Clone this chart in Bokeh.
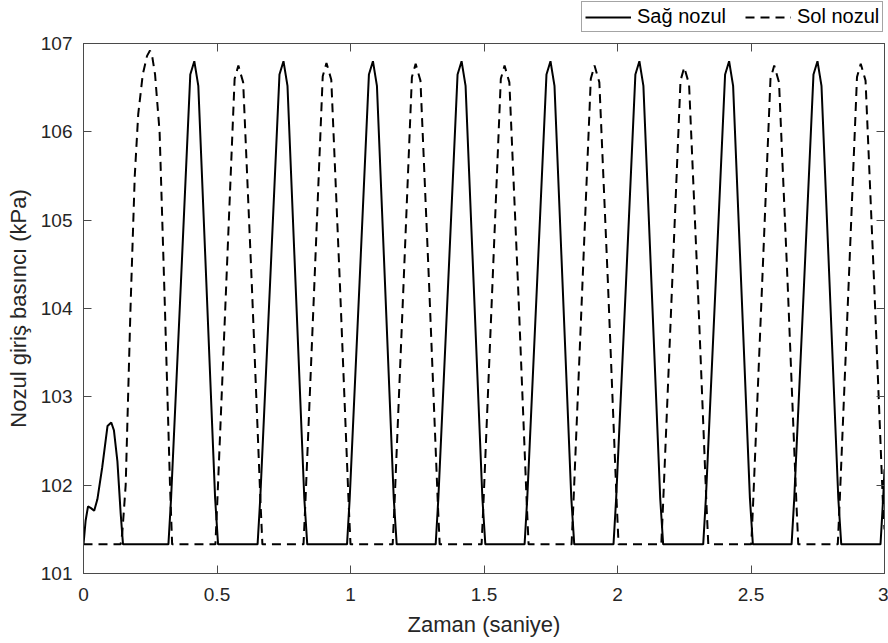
from bokeh.plotting import figure
from bokeh.layouts import column
from bokeh.models import Range1d, FixedTicker, LinearAxis, Legend, LegendItem
from bokeh.embed import file_html
from bokeh.resources import INLINE

# ---- data ----
x_ticks = [0, 0.5, 1, 1.5, 2, 2.5, 3]
x_tick_labels = ["0", "0.5", "1", "1.5", "2", "2.5", "3"]
y_ticks = [101, 102, 103, 104, 105, 106, 107]
y_tick_labels = ["101", "102", "103", "104", "105", "106", "107"]

# Sağ nozul (solid)
sag_t = [
    0.000, 0.008, 0.017, 0.028, 0.040, 0.052, 0.070, 0.090, 0.104, 0.114, 0.127, 0.139, 0.148,
    0.318, 0.328, 0.365, 0.400, 0.415, 0.430, 0.460, 0.493, 0.504,
    0.652, 0.662, 0.699, 0.734, 0.749, 0.764, 0.794, 0.827, 0.838,
    0.987, 0.997, 1.034, 1.069, 1.084, 1.099, 1.129, 1.162, 1.173,
    1.319, 1.329, 1.366, 1.401, 1.416, 1.431, 1.461, 1.494, 1.505,
    1.652, 1.662, 1.699, 1.734, 1.749, 1.764, 1.794, 1.827, 1.838,
    1.985, 1.995, 2.032, 2.067, 2.082, 2.097, 2.127, 2.160, 2.171,
    2.321, 2.331, 2.368, 2.403, 2.418, 2.433, 2.463, 2.496, 2.507,
    2.652, 2.662, 2.699, 2.734, 2.749, 2.764, 2.794, 2.827, 2.838,
    2.985, 2.995, 3.000,
]
sag_p = [
    101.33, 101.60, 101.76, 101.74, 101.71, 101.84, 102.20, 102.67, 102.71, 102.62, 102.27, 101.69, 101.33,
    101.33, 101.85, 104.30, 106.65, 106.80, 106.52, 104.30, 101.85, 101.33,
    101.33, 101.85, 104.30, 106.65, 106.80, 106.52, 104.30, 101.85, 101.33,
    101.33, 101.85, 104.30, 106.65, 106.80, 106.52, 104.30, 101.85, 101.33,
    101.33, 101.85, 104.30, 106.65, 106.80, 106.52, 104.30, 101.85, 101.33,
    101.33, 101.85, 104.30, 106.65, 106.80, 106.52, 104.30, 101.85, 101.33,
    101.33, 101.85, 104.30, 106.65, 106.80, 106.52, 104.30, 101.85, 101.33,
    101.33, 101.85, 104.30, 106.65, 106.80, 106.52, 104.30, 101.85, 101.33,
    101.33, 101.85, 104.30, 106.65, 106.80, 106.52, 104.30, 101.85, 101.33,
    101.33, 101.85, 102.18,
]

# Sol nozul (dashed)
sol_t = [
    0.000, 0.139, 0.145, 0.151, 0.158, 0.176, 0.192, 0.205, 0.222, 0.238, 0.249, 0.257, 0.268, 0.285, 0.305, 0.324, 0.332,
    0.494, 0.501, 0.535, 0.566, 0.580, 0.598, 0.630, 0.663, 0.670,
    0.824, 0.831, 0.865, 0.896, 0.910, 0.928, 0.960, 0.993, 1.000,
    1.158, 1.165, 1.199, 1.230, 1.244, 1.262, 1.294, 1.327, 1.334,
    1.491, 1.498, 1.532, 1.563, 1.577, 1.595, 1.627, 1.660, 1.667,
    1.828, 1.835, 1.869, 1.900, 1.914, 1.932, 1.964, 1.997, 2.004,
    2.164, 2.171, 2.205, 2.236, 2.250, 2.268, 2.300, 2.333, 2.340,
    2.501, 2.508, 2.542, 2.573, 2.587, 2.605, 2.637, 2.670, 2.677,
    2.825, 2.832, 2.866, 2.897, 2.911, 2.929, 2.961, 2.994, 3.000,
]
sol_p = [
    101.33, 101.33, 101.45, 101.70, 102.00, 104.00, 105.50, 106.20, 106.65, 106.86, 106.92, 106.86, 106.65, 106.00, 104.00, 102.00, 101.33,
    101.33, 101.80, 104.30, 106.60, 106.75, 106.56, 104.30, 101.80, 101.33,
    101.33, 101.80, 104.30, 106.63, 106.78, 106.59, 104.30, 101.80, 101.33,
    101.33, 101.80, 104.30, 106.62, 106.77, 106.58, 104.30, 101.80, 101.33,
    101.33, 101.80, 104.30, 106.60, 106.75, 106.56, 104.30, 101.80, 101.33,
    101.33, 101.80, 104.30, 106.60, 106.75, 106.56, 104.30, 101.80, 101.33,
    101.33, 101.80, 104.30, 106.58, 106.73, 106.54, 104.30, 101.80, 101.33,
    101.33, 101.80, 104.30, 106.60, 106.75, 106.56, 104.30, 101.80, 101.33,
    101.33, 101.80, 104.30, 106.62, 106.77, 106.58, 104.30, 101.80, 101.50,
]

series_names = ["Sağ nozul", "Sol nozul"]

# ---- styling ----
FONT = "Liberation Sans"
TXT = "#262626"
AX = "#4a4a4a"
SOLID_W = 2
DASH = "9 6"

LEG_H = 33
p = figure(width=888, height=643 - LEG_H, output_backend="svg", toolbar_location=None,
           x_range=Range1d(0, 3), y_range=Range1d(101, 107),
           min_border_left=83, min_border_right=4, min_border_top=10, min_border_bottom=70,
           background_fill_color="white", border_fill_color="white")
p.outline_line_color = AX
p.outline_line_width = 1
p.xgrid.visible = False
p.ygrid.visible = False

p.line(sag_t, sag_p, line_color="black", line_width=SOLID_W)
p.line(sol_t, sol_p, line_color="black", line_width=SOLID_W, line_dash=DASH)

def style_axis(ax, ticks, labels, show_labels=True):
    ax.ticker = FixedTicker(ticks=ticks)
    ax.major_tick_in = 8
    ax.major_tick_out = 0
    ax.minor_tick_in = 0
    ax.minor_tick_out = 0
    ax.major_tick_line_color = AX
    ax.axis_line_color = AX
    ax.axis_line_width = 1
    if show_labels:
        ax.major_label_overrides = dict(zip(ticks, labels))
        ax.major_label_text_font = FONT
        ax.major_label_text_font_size = "19px"
        ax.major_label_text_color = TXT
    else:
        ax.major_label_overrides = {t: "" for t in ticks}
        ax.major_label_text_font_size = "0px"
        ax.major_label_standoff = 0

style_axis(p.xaxis[0], x_ticks, x_tick_labels)
style_axis(p.yaxis[0], y_ticks, y_tick_labels)
p.xaxis[0].major_label_standoff = 14
p.yaxis[0].major_label_standoff = 11

p.xaxis[0].axis_label = "Zaman (saniye)"
p.yaxis[0].axis_label = "Nozul giriş basıncı (kPa)"
for ax in (p.xaxis[0], p.yaxis[0]):
    ax.axis_label_text_font = FONT
    ax.axis_label_text_font_size = "22px"
    ax.axis_label_text_font_style = "normal"
    ax.axis_label_text_color = TXT
    ax.axis_label_standoff = 7
p.xaxis[0].axis_label_standoff = 8

top_ax = LinearAxis()
style_axis(top_ax, x_ticks, x_tick_labels, show_labels=False)
p.add_layout(top_ax, "above")
right_ax = LinearAxis()
style_axis(right_ax, y_ticks, y_tick_labels, show_labels=False)
p.add_layout(right_ax, "right")

# ---- legend strip above the axes (its frame is aligned with the main frame) ----
lg = figure(width=888, height=LEG_H, output_backend="svg", toolbar_location=None,
            x_axis_type=None, y_axis_type=None, min_border=0,
            x_range=Range1d(0, 1), y_range=Range1d(0, 1),
            background_fill_color="white", border_fill_color="white")
lg.outline_line_color = None
lg.xgrid.visible = False
lg.ygrid.visible = False
# same series, lying outside this strip's range: only their legend samples show
k1 = lg.line(sag_t, sag_p, line_color="black", line_width=SOLID_W)
k2 = lg.line(sol_t, sol_p, line_color="black", line_width=SOLID_W, line_dash=DASH)

legend = Legend(items=[LegendItem(label=series_names[0], renderers=[k1]),
                       LegendItem(label=series_names[1], renderers=[k2])],
                orientation="horizontal", location=(498, 1))
legend.label_text_font = FONT
legend.label_text_font_size = "20px"
legend.label_text_color = "black"
legend.glyph_width = 46
legend.glyph_height = 20
legend.label_height = 20
legend.label_standoff = 6
legend.spacing = 19
legend.padding = 3
legend.margin = 0
legend.border_line_color = AX
legend.border_line_width = 1
legend.background_fill_color = "white"
legend.background_fill_alpha = 1
lg.add_layout(legend)

layout = column(lg, p, spacing=0)
open("out.html", "w").write(file_html(layout, INLINE))
